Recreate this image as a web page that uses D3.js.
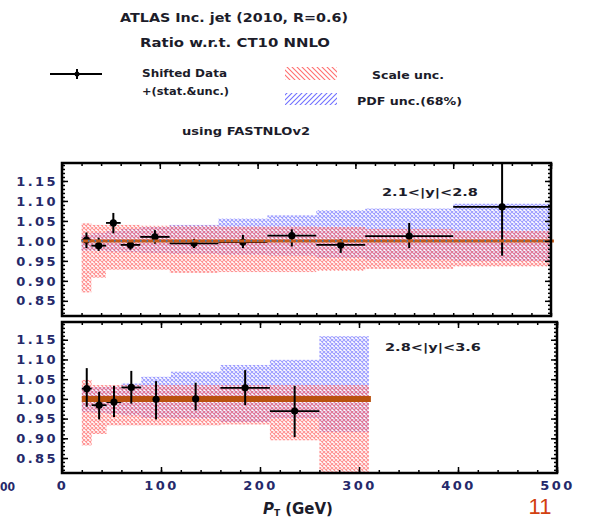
<!DOCTYPE html>
<html lang="en">
<head>
<meta charset="UTF-8" />
<title>ATLAS inc. jet ratio</title>
<script src="https://d3js.org/d3.v7.min.js"></script>
<style>
  body { margin: 0; background: #fff; }
  svg { display: block; }
  .lab { font-family: 'DejaVu Sans', sans-serif; font-weight: bold; fill: #1c1c2a; }
  .tick text { font-family: 'DejaVu Sans', sans-serif; font-weight: bold; font-size: 13px; fill: #25296a; letter-spacing: 2.4px; }
</style>
</head>
<body>
<div id="chart"></div>
<script>
// bins in pT (GeV)
const binLo = [20, 30, 45, 60, 80, 110, 160, 210, 260, 310, 400];
const binHi = [30, 45, 60, 80, 110, 160, 210, 260, 310, 400, 500];

// 2.1<|y|<2.8
const ptTop = [25, 37.5, 52.5, 70, 95, 135, 185, 235, 285, 355, 450];
const ratioTop = [1.002, 0.988, 1.045, 0.990, 1.010, 0.994, 0.997, 1.013, 0.990, 1.012, 1.085];
const errUpTop = [0.019, 0.020, 0.025, 0.010, 0.017, 0.011, 0.018, 0.016, 0.015, 0.033, 0.130];
const errDnTop = [0.020, 0.013, 0.026, 0.012, 0.017, 0.012, 0.015, 0.027, 0.020, 0.030, 0.122];
const scaleLoTop = [0.871, 0.908, 0.928, 0.928, 0.928, 0.920, 0.922, 0.922, 0.925, 0.930, 0.936];
const scaleHiTop = [1.044, 1.040, 1.040, 1.040, 1.038, 1.038, 1.036, 1.036, 1.035, 1.030, 1.025];
const pdfLoTop = [0.975, 0.975, 0.973, 0.972, 0.970, 0.968, 0.965, 0.963, 0.958, 0.953, 0.950];
const pdfHiTop = [1.015, 1.020, 1.025, 1.030, 1.035, 1.040, 1.056, 1.064, 1.077, 1.081, 1.093];

// 2.8<|y|<3.6
const ptBot = [25, 37.5, 52.5, 70, 95, 135, 185, 235];
const ratioBot = [1.026, 0.984, 0.992, 1.029, 0.999, 1.000, 1.028, 0.969];
const errUpBot = [0.052, 0.034, 0.041, 0.042, 0.046, 0.041, 0.045, 0.064];
const errDnBot = [0.046, 0.036, 0.038, 0.041, 0.051, 0.029, 0.044, 0.066];
const scaleLoBot = [0.882, 0.911, 0.933, 0.933, 0.933, 0.933, 0.935, 0.895, 0.815];
const scaleHiBot = [1.048, 1.035, 1.035, 1.035, 1.035, 1.035, 1.035, 1.035, 1.035];
const pdfLoBot = [0.967, 0.965, 0.962, 0.958, 0.952, 0.950, 0.941, 0.950, 0.916];
const pdfHiBot = [1.030, 1.030, 1.032, 1.039, 1.056, 1.069, 1.086, 1.099, 1.159];

const yTicks = [0.85, 0.90, 0.95, 1.00, 1.05, 1.10, 1.15];
const xTicks = [0, 100, 200, 300, 400, 500];

const W = 590, H = 519;
const svg = d3.select("#chart").append("svg").attr("width", W).attr("height", H);
const defs = svg.append("defs");

function mesh(id, color) {
  const p = defs.append("pattern").attr("id", id).attr("patternUnits", "userSpaceOnUse")
    .attr("width", 4).attr("height", 4);
  p.append("path").attr("d", "M0,0L4,4M4,0L0,4").attr("stroke", color).attr("stroke-width", 1.1);
}
mesh("meshRed", "#ff6464");
mesh("meshBlue", "#7474ff");

function hatch(id, color, flip) {
  const p = defs.append("pattern").attr("id", id).attr("patternUnits", "userSpaceOnUse")
    .attr("width", 5).attr("height", 5);
  p.append("path").attr("d", flip ? "M0,5L5,0M-1,1L1,-1M4,6L6,4" : "M0,0L5,5M-1,4L1,6M4,-1L6,1")
    .attr("stroke", color).attr("stroke-width", 1.1);
}
hatch("hatchRed", "#ff7070", false);
hatch("hatchBlue", "#7070ff", true);

function panel(opt) {
  const x = d3.scaleLinear().domain([0, 500]).range([62, opt.right]);
  const y = d3.scaleLinear().domain([0.812, 1.195]).range([opt.bottom, opt.top]);
  const g = svg.append("g");
  const cid = "clip" + opt.top;
  defs.append("clipPath").attr("id", cid).append("rect")
    .attr("x", 62).attr("y", opt.top).attr("width", opt.right - 62).attr("height", opt.bottom - opt.top);
  const plot = g.append("g").attr("clip-path", `url(#${cid})`);
  const n = opt.pdfLo.length;
  const idx = d3.range(n);

  plot.selectAll(".pdf").data(idx).join("rect")
    .attr("x", i => x(binLo[i])).attr("width", i => x(binHi[i]) - x(binLo[i]))
    .attr("y", i => y(opt.pdfHi[i])).attr("height", i => y(opt.pdfLo[i]) - y(opt.pdfHi[i]))
    .attr("fill", "url(#meshBlue)").attr("opacity", 0.7);
  plot.selectAll(".scl").data(idx).join("rect")
    .attr("x", i => x(binLo[i])).attr("width", i => x(binHi[i]) - x(binLo[i]))
    .attr("y", i => y(opt.scaleHi[i])).attr("height", i => y(opt.scaleLo[i]) - y(opt.scaleHi[i]))
    .attr("fill", "url(#meshRed)").attr("opacity", 0.7);

  // data points: bin-width bars sit under the theory line
  const pts = d3.range(opt.pt.length);
  plot.selectAll(".hb").data(pts).join("line")
    .attr("x1", i => x(binLo[i])).attr("x2", i => x(binHi[i]))
    .attr("y1", i => y(opt.ratio[i])).attr("y2", i => y(opt.ratio[i]))
    .attr("stroke", "#000").attr("stroke-width", 1.8);

  // central theory line
  if (opt.thick) {
    plot.append("line").attr("x1", x(20)).attr("x2", x(binHi[n - 1]) + 2)
      .attr("y1", y(1)).attr("y2", y(1)).attr("stroke", "#b9520f").attr("stroke-width", 6);
  } else {
    g.append("line").attr("x1", x(20)).attr("x2", x(503))
      .attr("y1", y(1)).attr("y2", y(1)).attr("stroke", "#c55a18").attr("stroke-width", 3);
    g.append("line").attr("x1", x(20)).attr("x2", x(503))
      .attr("y1", y(1)).attr("y2", y(1)).attr("stroke", "#3b78b8").attr("stroke-width", 1.6)
      .attr("stroke-dasharray", "1.5,5");
  }

  plot.selectAll(".vb").data(pts).join("line")
    .attr("x1", i => x(opt.pt[i])).attr("x2", i => x(opt.pt[i]))
    .attr("y1", i => y(opt.ratio[i] + opt.errUp[i])).attr("y2", i => y(opt.ratio[i] - opt.errDn[i]))
    .attr("stroke", "#000").attr("stroke-width", 2);
  plot.selectAll(".dot").data(pts).join("circle")
    .attr("cx", i => x(opt.pt[i])).attr("cy", i => y(opt.ratio[i])).attr("r", 3.6).attr("fill", "#000");

  // frame ticks
  const minorY = d3.range(0.82, 1.195, 0.01);
  const minorX = d3.range(0, 501, 20);
  g.append("g").attr("transform", `translate(62,0)`)
    .call(d3.axisLeft(y).tickValues(minorY).tickSize(-3).tickFormat("")).select(".domain").remove();
  g.append("g").attr("transform", `translate(62,0)`)
    .call(d3.axisLeft(y).tickValues(yTicks).tickSize(-6).tickPadding(4).tickFormat(d3.format(".2f")))
    .select(".domain").remove();
  g.append("g").attr("transform", `translate(${opt.right},0)`)
    .call(d3.axisRight(y).tickValues(minorY).tickSize(-3).tickFormat("")).select(".domain").remove();
  g.append("g").attr("transform", `translate(${opt.right},0)`)
    .call(d3.axisRight(y).tickValues(yTicks).tickSize(-6).tickFormat("")).select(".domain").remove();
  g.append("g").attr("transform", `translate(0,${opt.top})`)
    .call(d3.axisTop(x).tickValues(minorX).tickSize(-3).tickFormat("")).select(".domain").remove();
  g.append("g").attr("transform", `translate(0,${opt.top})`)
    .call(d3.axisTop(x).tickValues(xTicks).tickSize(-6).tickFormat("")).select(".domain").remove();
  const bx = g.append("g").attr("transform", `translate(0,${opt.bottom})`);
  bx.call(d3.axisBottom(x).tickValues(minorX).tickSize(-3).tickFormat("")).select(".domain").remove();
  if (opt.labels) {
    g.append("g").attr("transform", `translate(0,${opt.bottom})`)
      .call(d3.axisBottom(x).tickValues(xTicks).tickSize(-6).tickPadding(8)).select(".domain").remove();
  }
  g.selectAll(".tick line").attr("stroke", "#000").attr("stroke-width", 1.5);

  g.append("rect").attr("x", 62).attr("y", opt.top).attr("width", opt.right - 62)
    .attr("height", opt.bottom - opt.top).attr("fill", "none").attr("stroke", "#000").attr("stroke-width", 2.5);

  g.append("text").attr("class", "lab").attr("x", opt.labX).attr("y", opt.labY)
    .attr("font-size", 11).attr("textLength", 96).attr("lengthAdjust", "spacingAndGlyphs")
    .attr("fill", "#2a2c66").text(opt.label);
}

panel({ top: 163, bottom: 316, right: 551, pt: ptTop, ratio: ratioTop, errUp: errUpTop, errDn: errDnTop,
  scaleLo: scaleLoTop, scaleHi: scaleHiTop, pdfLo: pdfLoTop, pdfHi: pdfHiTop, thick: false, labels: false,
  label: "2.1<|y|<2.8", labX: 382, labY: 195.5 });
panel({ top: 322, bottom: 473, right: 557, pt: ptBot, ratio: ratioBot, errUp: errUpBot, errDn: errDnBot,
  scaleLo: scaleLoBot, scaleHi: scaleHiBot, pdfLo: pdfLoBot, pdfHi: pdfHiBot, thick: true, labels: true,
  label: "2.8<|y|<3.6", labX: 385, labY: 350.5 });

// part of the neighbouring figure's axis label, seen at the left edge
svg.append("text").attr("x", 0).attr("y", 490.5)
  .style("font-family", "'DejaVu Sans', sans-serif").style("font-weight", "bold").style("font-size", "13px")
  .attr("textLength", 15).attr("lengthAdjust", "spacingAndGlyphs").attr("fill", "#25296a").text("00");

// titles
function label(txt, x, y, size, len, anchor) {
  svg.append("text").attr("class", "lab").attr("x", x).attr("y", y).attr("font-size", size)
    .attr("text-anchor", anchor || "start").attr("textLength", len).attr("lengthAdjust", "spacingAndGlyphs").text(txt);
}
label("ATLAS Inc. jet (2010, R=0.6)", 234, 21.5, 13, 228, "middle");
label("Ratio w.r.t. CT10 NNLO", 235, 46.5, 13, 190, "middle");
label("Shifted Data", 142, 76.5, 10, 85);
label("+(stat.&unc.)", 142, 95, 10, 87);
label("Scale unc.", 372, 78.5, 10, 72);
label("PDF unc.(68%)", 357, 105, 10, 105);
label("using FASTNLOv2", 246, 134.5, 10, 128, "middle");

// legend symbols
svg.append("line").attr("x1", 50).attr("x2", 102).attr("y1", 74).attr("y2", 74).attr("stroke", "#000").attr("stroke-width", 2);
svg.append("line").attr("x1", 77).attr("x2", 77).attr("y1", 69).attr("y2", 79).attr("stroke", "#000").attr("stroke-width", 2);
svg.append("circle").attr("cx", 77).attr("cy", 74).attr("r", 2.5).attr("fill", "#000");
svg.append("rect").attr("x", 285).attr("y", 67).attr("width", 52).attr("height", 13).attr("fill", "url(#hatchRed)");
svg.append("rect").attr("x", 285).attr("y", 93).attr("width", 52).attr("height", 12).attr("fill", "url(#hatchBlue)");

// x axis title
const xt = svg.append("text").attr("x", 263).attr("y", 514).attr("class", "lab")
  .attr("font-size", 15).attr("fill", "#1c1c3a");
xt.append("tspan").attr("font-style", "italic").text("P");
xt.append("tspan").attr("font-size", 9).attr("dy", 2).text("T");
xt.append("tspan").attr("dy", -2).attr("dx", 5).text("(GeV)");

// page number
svg.append("text").attr("x", 540).attr("y", 514).attr("text-anchor", "middle")
  .style("font-family", "'Liberation Sans', Arial, sans-serif").style("font-size", "22px")
  .attr("fill", "#d2400f").text("11");
</script>
</body>
</html>
